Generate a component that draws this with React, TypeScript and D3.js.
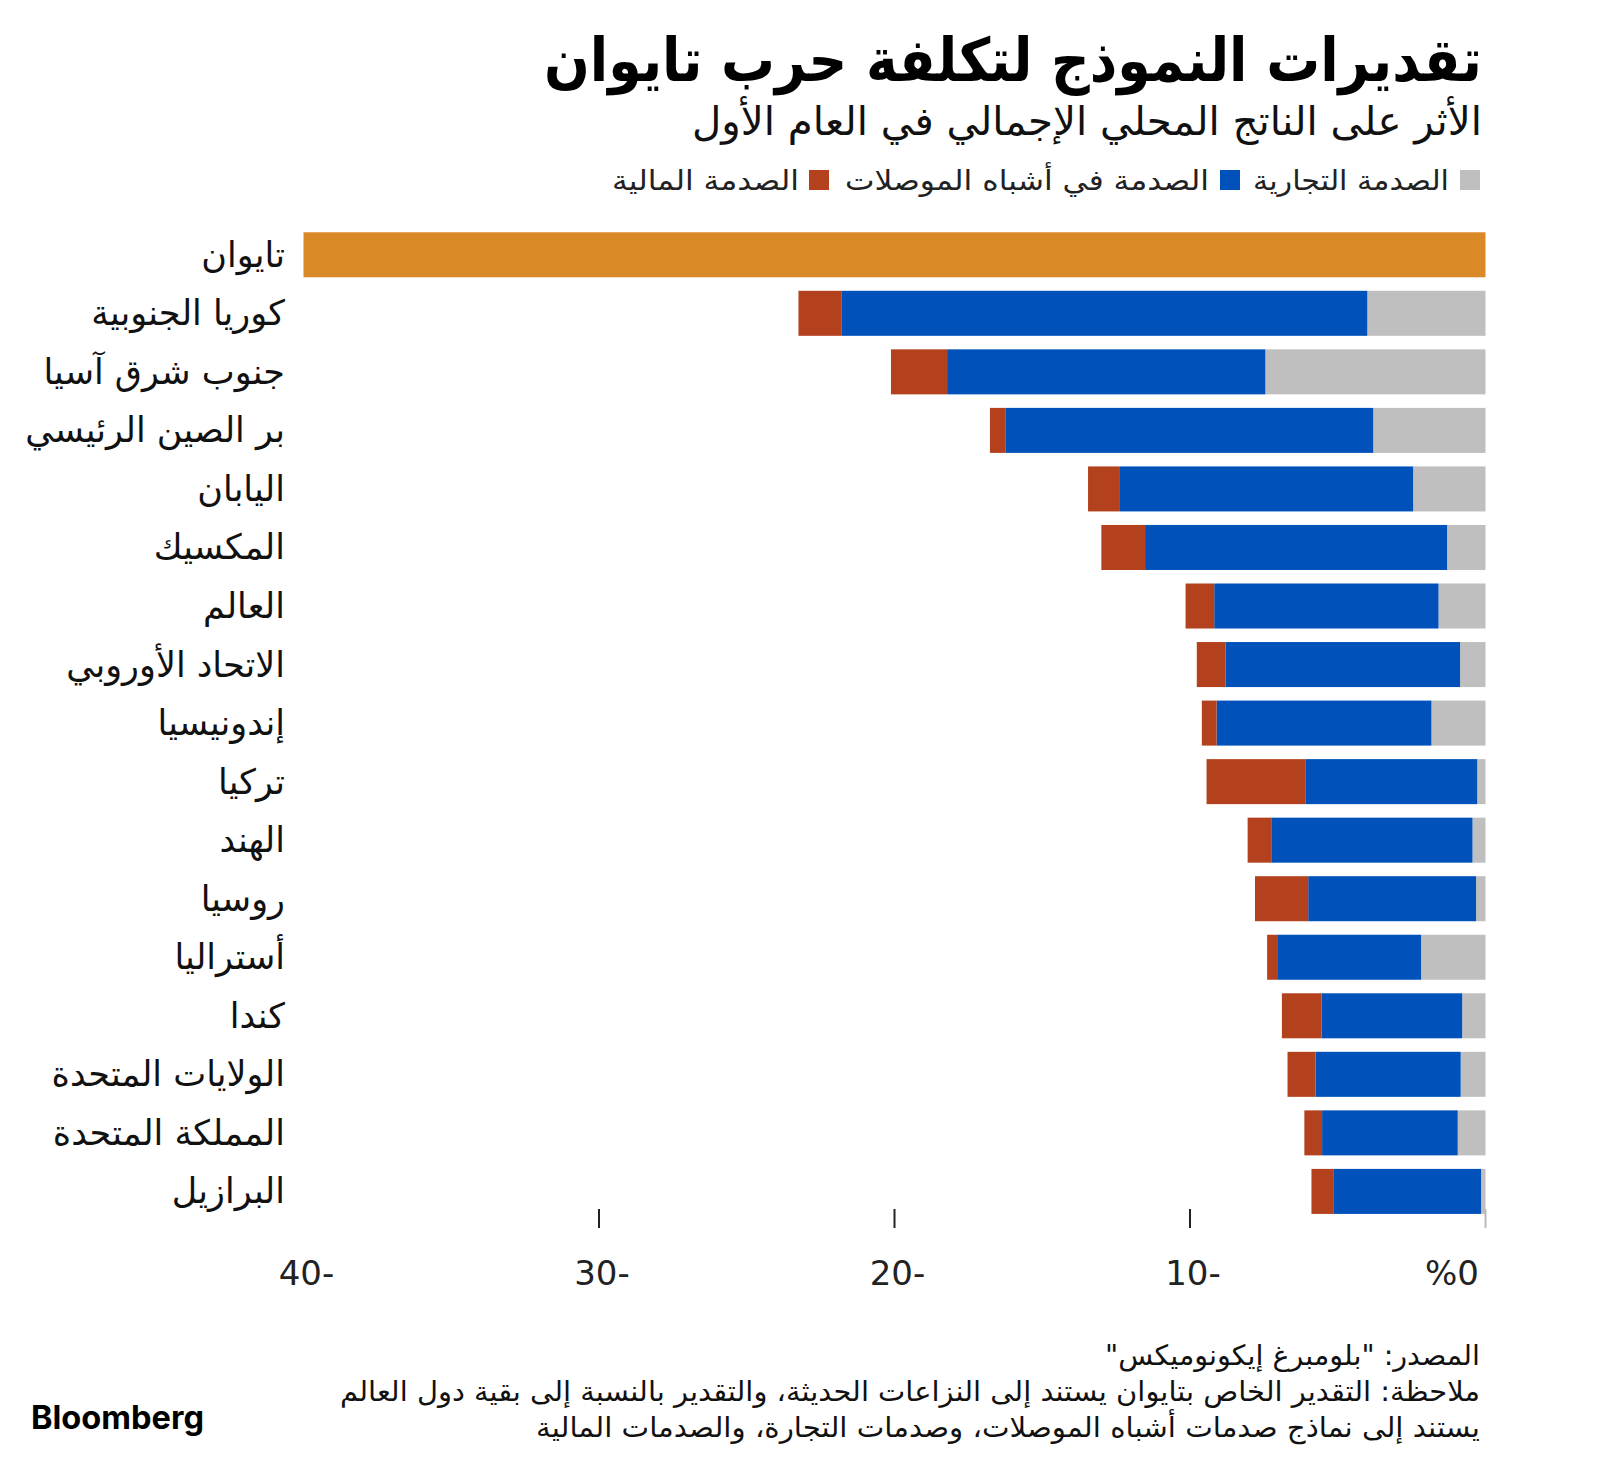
import React from 'react';
import * as d3 from 'd3';

const categories = ['تايوان', 'كوريا الجنوبية', 'جنوب شرق آسيا', 'بر الصين الرئيسي', 'اليابان', 'المكسيك', 'العالم', 'الاتحاد الأوروبي', 'إندونيسيا', 'تركيا', 'الهند', 'روسيا', 'أستراليا', 'كندا', 'الولايات المتحدة', 'المملكة المتحدة', 'البرازيل'];
const taiwanTotal = -40;
const tradeShock = [0, -4.0, -7.45, -3.8, -2.45, -1.3, -1.59, -0.86, -1.83, -0.28, -0.44, -0.32, -2.18, -0.79, -0.84, -0.94, -0.15];
const semiShock = [0, -17.8, -10.77, -12.45, -9.92, -10.22, -7.59, -7.94, -7.27, -5.8, -6.81, -5.68, -4.87, -4.76, -4.91, -4.59, -4.98];
const finShock = [0, -1.45, -1.9, -0.52, -1.08, -1.48, -0.97, -0.97, -0.5, -3.36, -0.8, -1.8, -0.34, -1.34, -0.95, -0.6, -0.76];
const tickValues = [-40, -30, -20, -10, 0];
const tickLabels = ['40-', '30-', '20-', '10-', '%0'];
const seriesKeys = ['trade', 'semi', 'fin'];
const seriesNames = ['الصدمة التجارية', 'الصدمة في أشباه الموصلات', 'الصدمة المالية'];
const seriesColors = ['#bfbfbf', '#0052ba', '#b4411e'];
const taiwanColor = '#d98a26';

const title = 'تقديرات النموذج لتكلفة حرب تايوان';
const subtitle = 'الأثر على الناتج المحلي الإجمالي في العام الأول';
const sourceText = 'المصدر: "بلومبرغ إيكونوميكس"';
const note1 = 'ملاحظة: التقدير الخاص بتايوان يستند إلى النزاعات الحديثة، والتقدير بالنسبة إلى بقية دول العالم';
const note2 = 'يستند إلى نماذج صدمات أشباه الموصلات، وصدمات التجارة، والصدمات المالية';

const AR = '"DejaVu Sans", sans-serif';

export default function App() {
  const W = 1600, H = 1474;
  const x = d3.scaleLinear().domain([-40, 0]).range([303.5, 1485.5]);
  const y0 = 225.5, step = 58.54;
  const y = d3.scaleBand<string>().domain(categories).range([y0, y0 + step * categories.length]).paddingInner(0.231).paddingOuter(0.1155);

  const rows = categories.map((c, i) => ({ cat: c, trade: tradeShock[i], semi: semiShock[i], fin: finShock[i] }));
  const stacked = d3.stack<any>().keys(seriesKeys).offset(d3.stackOffsetDiverging)(rows.slice(1));

  const legendItems = [
    { sx: 1460, tx: 1449, len: 196 },
    { sx: 1220, tx: 1209, len: 364 },
    { sx: 809, tx: 799, len: 187 },
  ];

  return (
    <svg width={W} height={H} style={{ position: 'absolute', left: 0, top: 0, background: '#fff' }}>
      <rect width={W} height={H} fill="#fff" />
      <text x={1482} y={81} direction="rtl" textAnchor="start" fontFamily={AR} fontWeight="bold" fontSize={60} fill="#000" textLength={938} lengthAdjust="spacingAndGlyphs">{title}</text>
      <text x={1482} y={135} direction="rtl" textAnchor="start" fontFamily={AR} fontSize={40} fill="#111" textLength={790} lengthAdjust="spacingAndGlyphs">{subtitle}</text>
      {legendItems.map((l, i) => (
        <g key={i}>
          <rect x={l.sx} y={170} width={20} height={20} fill={seriesColors[i]} />
          <text x={l.tx} y={190} direction="rtl" textAnchor="start" fontFamily={AR} fontSize={28} fill="#222" textLength={l.len} lengthAdjust="spacingAndGlyphs">{seriesNames[i]}</text>
        </g>
      ))}

      <rect x={x(taiwanTotal)} y={y(categories[0])} width={x(0) - x(taiwanTotal)} height={y.bandwidth()} fill={taiwanColor} />
      {stacked.map((s, si) => (
        <g key={s.key} fill={seriesColors[si]}>
          {s.map((d: any, di: number) => (
            <rect key={di} x={x(d[0])} y={y(d.data.cat)} width={Math.max(0, x(d[1]) - x(d[0]))} height={y.bandwidth()} />
          ))}
        </g>
      ))}

      {categories.map((c) => (
        <text key={c} x={285} y={(y(c) as number) + y.bandwidth() / 2 + 12} direction="rtl" textAnchor="start" fontFamily={AR} fontSize={35} fill="#111">{c}</text>
      ))}

      {tickValues.map((t, i) => (
        <g key={t}>
          {t !== -40 && <line x1={x(t)} x2={x(t)} y1={1209} y2={1228} stroke={t === 0 ? '#bbb' : '#222'} strokeWidth={2} />}
          <text x={t === 0 ? 1479 : x(t) + 3} y={1285} textAnchor={t === 0 ? 'end' : 'middle'} fontFamily={AR} fontSize={34} fill="#222">{tickLabels[i]}</text>
        </g>
      ))}

      <text x={1480} y={1365} direction="rtl" textAnchor="start" fontFamily={AR} fontSize={28} fill="#111" textLength={375} lengthAdjust="spacingAndGlyphs">{sourceText}</text>
      <text x={1480} y={1401} direction="rtl" textAnchor="start" fontFamily={AR} fontSize={28} fill="#111" textLength={1140} lengthAdjust="spacingAndGlyphs">{note1}</text>
      <text x={1480} y={1437} direction="rtl" textAnchor="start" fontFamily={AR} fontSize={28} fill="#111" textLength={944} lengthAdjust="spacingAndGlyphs">{note2}</text>
      <text x={31} y={1429} fontFamily="Inter, Roboto, sans-serif" fontWeight="bold" fontSize={32} fill="#000" textLength={173} lengthAdjust="spacingAndGlyphs">Bloomberg</text>
    </svg>
  );
}
